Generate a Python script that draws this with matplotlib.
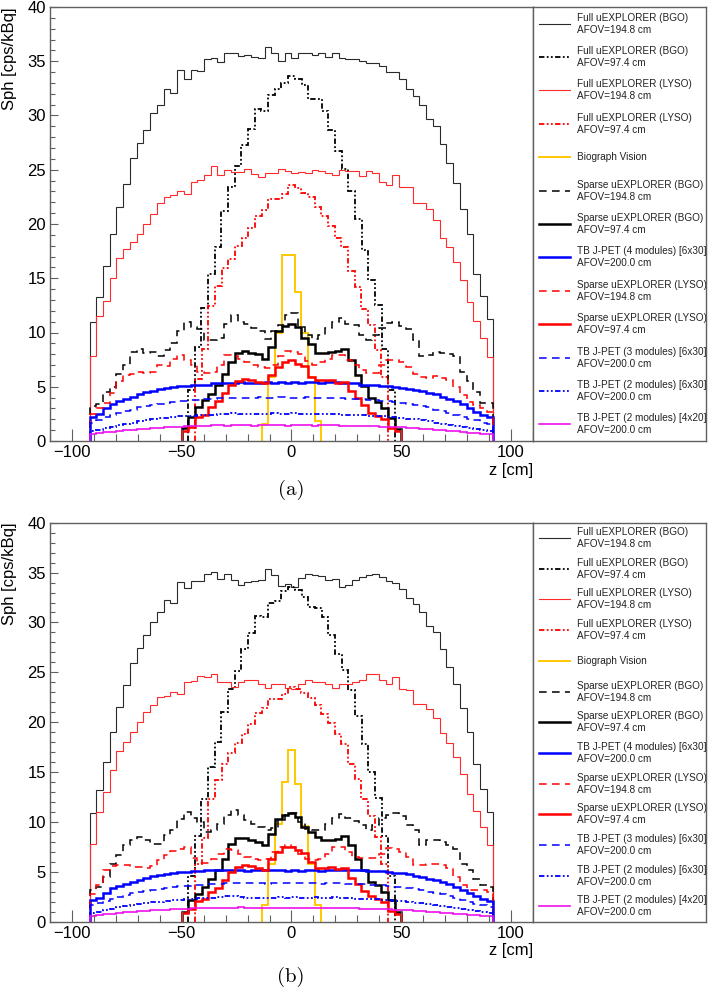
import numpy as np
import matplotlib.pyplot as plt
from matplotlib.ticker import MultipleLocator

plt.rcParams['font.family'] = ['Liberation Sans', 'DejaVu Sans']

# bin edges [cm]
edges_long = np.linspace(-92, 92, 61)
edges_sparse = np.linspace(-50, 50, 34)
edges_bgo97 = np.linspace(-47.1, 47.1, 32)
edges_lyso97 = np.linspace(-44, 44, 30)
edges_vision = np.linspace(-13.5, 13.5, 10)

labels = [
    "Full uEXPLORER (BGO)\nAFOV=194.8 cm",
    "Full uEXPLORER (BGO)\nAFOV=97.4 cm",
    "Full uEXPLORER (LYSO)\nAFOV=194.8 cm",
    "Full uEXPLORER (LYSO)\nAFOV=97.4 cm",
    "Biograph Vision",
    "Sparse uEXPLORER (BGO)\nAFOV=194.8 cm",
    "Sparse uEXPLORER (BGO)\nAFOV=97.4 cm",
    "TB J-PET (4 modules) [6x30]\nAFOV=200.0 cm",
    "Sparse uEXPLORER (LYSO)\nAFOV=194.8 cm",
    "Sparse uEXPLORER (LYSO)\nAFOV=97.4 cm",
    "TB J-PET (3 modules) [6x30]\nAFOV=200.0 cm",
    "TB J-PET (2 modules) [6x30]\nAFOV=200.0 cm",
    "TB J-PET (2 modules) [4x20]\nAFOV=200.0 cm",
]

# ---------------- panel (a) ----------------
a_full_bgo = [11.0, 13.3, 16.1, 19.1, 21.6, 23.7, 26.1, 27.5, 28.7, 30.2,
              31.0, 32.4, 32.1, 34.2, 33.4, 34.2, 34.1, 35.2, 35.3, 34.9,
              35.8, 35.8, 35.5, 35.6, 35.4, 35.3, 36.3, 35.8, 35.0, 35.8,
              35.3, 35.8, 35.8, 35.6, 35.8, 35.4, 35.8, 35.3, 35.2, 35.2,
              35.0, 34.8, 34.8, 34.6, 34.0, 34.0, 33.4, 32.4, 31.8, 31.0,
              29.7, 29.0, 27.4, 25.6, 23.8, 21.4, 19.1, 15.4, 13.4, 11.2]
a_full_bgo97 = [4.7, 8.7, 12.3, 15.4, 17.9, 21.2, 23.4, 25.3, 27.3, 28.8,
                30.6, 30.4, 31.9, 32.4, 33.0, 33.6, 33.4, 32.8, 31.5, 31.5,
                30.4, 28.7, 26.7, 25.1, 23.0, 20.5, 17.6, 14.8, 12.5, 8.5, 4.7]
a_full_lyso = [7.8, 11.5, 12.9, 15.0, 16.9, 17.7, 18.3, 19.1, 20.0, 20.9,
               21.9, 22.5, 22.7, 23.0, 22.8, 23.9, 24.1, 24.5, 25.3, 24.5,
               25.0, 24.8, 24.8, 25.1, 24.6, 24.3, 24.7, 24.7, 25.1, 24.9,
               24.7, 24.8, 24.7, 25.0, 24.9, 24.7, 24.5, 25.0, 24.9, 24.9,
               24.4, 24.9, 24.7, 23.9, 23.6, 24.5, 23.4, 23.4, 21.9, 21.9,
               21.4, 20.4, 18.7, 17.9, 16.5, 14.8, 12.8, 11.1, 9.5, 7.7]
a_full_lyso97 = [5.7, 8.5, 12.4, 14.3, 15.9, 16.8, 18.0, 18.7, 19.6, 20.7,
                 21.3, 22.3, 22.3, 22.8, 23.6, 23.3, 22.9, 22.5, 21.6, 20.7,
                 19.8, 18.7, 17.9, 15.7, 14.2, 12.2, 10.7, 8.4, 5.9]
a_vision = [1.6, 5.9, 10.0, 17.1, 17.1, 13.7, 10.0, 5.9, 1.8]
a_sparse_bgo = [3.2, 3.4, 4.5, 5.0, 6.2, 7.0, 8.2, 8.5, 8.1, 8.2,
                7.8, 8.4, 9.0, 10.1, 11.0, 10.5, 10.3, 9.3, 9.3, 9.5,
                10.8, 11.6, 11.0, 10.8, 10.4, 10.1, 9.4, 10.1, 10.7, 11.6,
                11.8, 10.5, 9.8, 9.4, 9.8, 10.4, 11.0, 11.3, 10.8, 10.7,
                9.8, 9.3, 9.8, 10.4, 10.9, 11.0, 10.6, 10.3, 9.3, 7.8,
                7.9, 8.2, 8.1, 8.0, 7.8, 6.4, 5.5, 4.5, 3.5, 3.5]
a_sparse_bgo97 = [1.2, 2.2, 3.1, 3.8, 4.3, 5.2, 6.2, 7.3, 8.1, 8.3, 8.1,
                  8.0, 7.6, 8.7, 10.1, 10.6, 10.8, 10.5, 9.5, 8.9, 8.1, 8.1,
                  8.2, 8.3, 8.5, 7.5, 6.1, 5.1, 4.0, 3.6, 3.0, 2.1, 1.1]
a_jpet4 = [2.2, 2.5, 3.0, 3.4, 3.7, 3.9, 4.1, 4.3, 4.5, 4.6,
           4.8, 4.9, 5.0, 5.1, 5.1, 5.2, 5.2, 5.2, 5.3, 5.3,
           5.3, 5.3, 5.4, 5.3, 5.3, 5.3, 5.4, 5.3, 5.4, 5.3,
           5.4, 5.3, 5.4, 5.4, 5.3, 5.4, 5.4, 5.3, 5.3, 5.3,
           5.2, 5.2, 5.2, 5.1, 5.1, 5.0, 4.9, 4.8, 4.7, 4.6,
           4.4, 4.3, 4.1, 3.9, 3.7, 3.4, 3.0, 2.7, 2.4, 2.2]
a_sparse_lyso = [2.5, 3.0, 3.5, 4.4, 5.5, 6.1, 6.2, 6.4, 6.3, 6.4,
                 7.0, 6.9, 7.6, 7.9, 7.5, 7.0, 6.4, 6.3, 6.4, 7.0,
                 7.9, 7.8, 7.6, 7.3, 7.0, 6.8, 6.7, 7.0, 7.8, 8.3,
                 8.2, 8.0, 7.4, 7.0, 7.3, 7.6, 7.9, 7.9, 7.5, 7.0,
                 6.5, 6.3, 6.3, 7.0, 7.5, 7.5, 7.3, 6.8, 6.2, 5.9,
                 5.8, 6.0, 5.8, 5.6, 5.0, 4.2, 3.6, 3.3, 3.0, 2.7]
a_sparse_lyso97 = [0.9, 1.3, 2.2, 2.4, 3.1, 3.7, 4.4, 5.2, 5.5, 5.7, 5.6,
                   5.4, 5.3, 6.1, 6.8, 7.3, 7.5, 7.1, 6.9, 5.9, 5.6, 5.6,
                   5.6, 5.3, 5.4, 4.6, 4.0, 3.3, 2.6, 2.3, 2.0, 1.2, 0.9]
a_jpet3 = [1.7, 1.9, 2.2, 2.4, 2.6, 2.8, 2.9, 3.1, 3.2, 3.3,
           3.4, 3.5, 3.6, 3.7, 3.7, 3.8, 3.8, 3.9, 3.9, 4.0,
           4.0, 4.0, 4.0, 4.0, 4.0, 4.1, 4.0, 4.0, 4.1, 4.0,
           4.0, 4.0, 4.1, 4.0, 4.0, 4.0, 4.0, 4.0, 3.9, 3.9,
           3.9, 3.8, 3.8, 3.7, 3.7, 3.6, 3.5, 3.4, 3.3, 3.2,
           3.1, 2.9, 2.8, 2.6, 2.4, 2.2, 2.0, 1.9, 1.7, 1.6]
a_jpet2 = [0.9, 1.0, 1.2, 1.3, 1.5, 1.6, 1.7, 1.8, 1.9, 2.0,
           2.1, 2.1, 2.2, 2.3, 2.3, 2.3, 2.4, 2.4, 2.4, 2.5,
           2.5, 2.6, 2.5, 2.5, 2.5, 2.5, 2.5, 2.6, 2.5, 2.5,
           2.6, 2.5, 2.5, 2.5, 2.5, 2.5, 2.5, 2.4, 2.4, 2.4,
           2.4, 2.3, 2.3, 2.3, 2.2, 2.2, 2.1, 2.0, 2.0, 1.9,
           1.8, 1.7, 1.6, 1.5, 1.4, 1.3, 1.2, 1.1, 1.0, 0.9]
a_jpet2s = [0.6, 0.7, 0.8, 0.8, 0.9, 1.0, 1.0, 1.1, 1.1, 1.2,
            1.2, 1.3, 1.3, 1.3, 1.4, 1.4, 1.4, 1.4, 1.5, 1.5,
            1.4, 1.5, 1.5, 1.5, 1.4, 1.5, 1.5, 1.5, 1.5, 1.4,
            1.5, 1.5, 1.5, 1.4, 1.5, 1.5, 1.5, 1.4, 1.4, 1.4,
            1.4, 1.4, 1.4, 1.3, 1.3, 1.3, 1.3, 1.2, 1.2, 1.1,
            1.1, 1.0, 1.0, 0.9, 0.9, 0.8, 0.7, 0.7, 0.6, 0.6]

# ---------------- panel (b) ----------------
b_full_bgo = [10.9, 13.2, 16.0, 19.0, 21.5, 23.7, 25.9, 27.4, 28.7, 30.0,
              31.0, 32.3, 31.9, 34.1, 33.5, 34.2, 34.2, 34.9, 35.1, 34.4,
              34.9, 34.3, 33.8, 34.1, 34.2, 34.3, 35.4, 34.8, 33.7, 33.9,
              33.6, 34.5, 34.9, 34.8, 34.7, 34.3, 34.4, 33.6, 33.8, 34.3,
              34.6, 34.8, 34.9, 34.6, 34.2, 34.0, 33.4, 32.5, 31.8, 31.0,
              29.6, 29.0, 27.3, 25.5, 23.8, 21.4, 19.0, 15.8, 13.3, 11.0]
b_full_bgo97 = [4.6, 8.6, 12.3, 15.5, 18.0, 21.0, 23.3, 25.1, 27.3, 28.9,
                30.6, 30.5, 31.9, 32.2, 33.2, 33.6, 33.3, 32.6, 31.5, 31.4,
                30.5, 28.7, 26.8, 25.2, 23.2, 20.6, 17.8, 15.0, 12.4, 8.6, 4.6]
b_full_lyso = [7.8, 11.0, 13.0, 15.2, 17.1, 18.0, 19.0, 20.0, 21.0, 21.7,
               22.5, 22.6, 23.0, 22.8, 24.0, 24.1, 24.6, 24.5, 24.8, 24.0,
               24.0, 23.5, 24.0, 24.2, 24.2, 23.8, 23.4, 23.8, 23.8, 23.4,
               23.3, 23.8, 24.2, 24.0, 24.0, 23.8, 23.4, 23.8, 23.8, 24.0,
               24.2, 24.8, 24.8, 24.2, 23.8, 24.5, 23.3, 23.2, 21.8, 21.8,
               21.3, 20.4, 18.9, 17.9, 16.5, 14.8, 12.8, 11.1, 9.5, 7.7]
b_full_lyso97 = [5.8, 8.4, 12.3, 14.2, 15.8, 16.9, 17.9, 18.8, 19.8, 20.9,
                 21.4, 22.3, 22.3, 22.8, 23.5, 23.3, 22.9, 22.4, 21.7, 20.8,
                 19.9, 18.8, 17.8, 15.8, 14.3, 12.3, 10.6, 8.5, 5.8]
b_vision = [1.7, 5.8, 9.8, 14.0, 17.2, 13.8, 9.6, 5.8, 1.7]
b_sparse_bgo = [3.2, 3.5, 4.5, 5.8, 6.7, 7.7, 8.2, 8.5, 8.2, 7.8,
                7.8, 8.7, 9.2, 10.3, 11.0, 10.4, 10.0, 9.0, 9.2, 9.8,
                10.7, 11.2, 10.7, 10.2, 9.8, 9.5, 9.2, 9.4, 10.2, 10.7,
                10.9, 10.0, 9.3, 9.2, 9.2, 9.8, 10.4, 10.8, 10.4, 10.1,
                9.7, 9.2, 9.7, 10.4, 10.7, 10.9, 10.6, 9.7, 9.2, 7.7,
                8.2, 8.2, 8.0, 7.7, 7.3, 5.8, 5.2, 4.3, 3.7, 3.5]
b_sparse_bgo97 = [1.0, 2.2, 2.8, 3.5, 4.3, 5.2, 6.3, 7.8, 8.4, 8.4, 8.2,
                  8.0, 7.7, 8.8, 10.3, 10.7, 10.9, 10.5, 9.5, 9.0, 8.5, 8.2,
                  8.2, 8.3, 8.6, 7.7, 6.3, 5.2, 4.0, 3.7, 3.0, 2.2, 1.0]
b_jpet4 = [2.2, 2.4, 2.9, 3.4, 3.6, 3.8, 4.0, 4.2, 4.4, 4.6,
           4.7, 4.8, 4.9, 5.0, 5.0, 5.1, 5.1, 5.2, 5.2, 5.2,
           5.2, 5.2, 5.2, 5.1, 5.2, 5.2, 5.2, 5.2, 5.2, 5.1,
           5.2, 5.1, 5.2, 5.2, 5.1, 5.2, 5.2, 5.2, 5.2, 5.2,
           5.2, 5.1, 5.1, 5.1, 5.0, 4.9, 4.9, 4.8, 4.6, 4.5,
           4.3, 4.2, 4.0, 3.8, 3.5, 3.2, 2.9, 2.6, 2.3, 2.1]
b_sparse_lyso = [2.8, 3.7, 5.2, 5.6, 5.7, 5.7, 5.5, 5.5, 5.4, 5.6,
                 6.2, 6.7, 7.1, 7.3, 7.5, 6.4, 5.9, 5.9, 6.3, 6.8,
                 7.3, 7.2, 6.8, 6.5, 6.3, 6.2, 6.3, 7.0, 7.5, 7.7,
                 7.5, 6.8, 6.3, 6.2, 6.3, 6.8, 7.5, 7.5, 7.0, 6.5,
                 6.4, 6.4, 6.4, 6.8, 7.4, 7.3, 7.0, 6.5, 5.7, 5.7,
                 5.8, 5.8, 5.7, 5.4, 4.5, 3.7, 3.2, 3.2, 3.2, 3.0]
b_sparse_lyso97 = [0.9, 1.3, 2.1, 2.3, 3.0, 3.4, 4.2, 5.0, 5.5, 5.7, 5.6,
                   5.4, 5.2, 6.3, 7.0, 7.5, 7.5, 7.2, 6.9, 6.0, 5.4, 5.4,
                   5.5, 5.3, 5.4, 4.4, 3.8, 3.1, 2.6, 2.3, 2.0, 1.1, 0.8]
b_jpet3 = [1.7, 1.9, 2.1, 2.3, 2.5, 2.7, 2.9, 3.0, 3.1, 3.2,
           3.3, 3.4, 3.5, 3.6, 3.6, 3.7, 3.7, 3.8, 3.8, 3.8,
           3.9, 3.9, 3.9, 3.9, 3.9, 3.9, 3.8, 3.9, 3.9, 3.9,
           3.9, 3.9, 3.9, 3.9, 3.8, 3.9, 3.9, 3.9, 3.8, 3.8,
           3.8, 3.7, 3.7, 3.7, 3.6, 3.5, 3.5, 3.4, 3.3, 3.2,
           3.0, 2.9, 2.8, 2.6, 2.4, 2.2, 2.0, 1.8, 1.7, 1.5]
b_jpet2 = [0.9, 1.0, 1.2, 1.3, 1.5, 1.6, 1.7, 1.8, 1.9, 2.0,
           2.0, 2.1, 2.2, 2.2, 2.3, 2.3, 2.4, 2.4, 2.4, 2.5,
           2.6, 2.6, 2.5, 2.4, 2.4, 2.4, 2.4, 2.4, 2.5, 2.4,
           2.5, 2.4, 2.4, 2.5, 2.4, 2.4, 2.5, 2.4, 2.4, 2.3,
           2.3, 2.3, 2.3, 2.2, 2.2, 2.1, 2.1, 2.0, 1.9, 1.9,
           1.8, 1.7, 1.6, 1.5, 1.4, 1.3, 1.2, 1.1, 1.0, 0.9]
b_jpet2s = [0.6, 0.7, 0.8, 0.8, 0.9, 1.0, 1.0, 1.1, 1.1, 1.2,
            1.2, 1.2, 1.3, 1.3, 1.3, 1.4, 1.4, 1.4, 1.4, 1.4,
            1.4, 1.4, 1.5, 1.4, 1.4, 1.4, 1.4, 1.4, 1.4, 1.4,
            1.4, 1.4, 1.4, 1.4, 1.4, 1.4, 1.4, 1.4, 1.4, 1.4,
            1.3, 1.3, 1.3, 1.3, 1.3, 1.2, 1.2, 1.2, 1.1, 1.1,
            1.0, 1.0, 0.9, 0.9, 0.8, 0.8, 0.7, 0.7, 0.6, 0.6]

edges = [edges_long, edges_bgo97, edges_long, edges_lyso97, edges_vision,
         edges_long, edges_sparse, edges_long, edges_long, edges_sparse,
         edges_long, edges_long, edges_long]

dashdot3 = (0, (3, 1.3, 1, 1.3, 1, 1.3))
dashed = (0, (5, 3.5))
styles = [
    dict(color='#2a2a2a', lw=0.8, ls='-'),
    dict(color='black', lw=1.3, ls=dashdot3),
    dict(color='#ff2a2a', lw=0.8, ls='-'),
    dict(color='red', lw=1.3, ls=dashdot3),
    dict(color='#ffc800', lw=1.4, ls='-'),
    dict(color='black', lw=1.1, ls=dashed),
    dict(color='black', lw=1.8, ls='-'),
    dict(color='blue', lw=1.8, ls='-'),
    dict(color='red', lw=1.1, ls=dashed),
    dict(color='red', lw=1.8, ls='-'),
    dict(color='blue', lw=1.1, ls=dashed),
    dict(color='blue', lw=1.3, ls=dashdot3),
    dict(color='#ee10ee', lw=1.2, ls='-'),
]

panel_a = [a_full_bgo, a_full_bgo97, a_full_lyso, a_full_lyso97, a_vision,
           a_sparse_bgo, a_sparse_bgo97, a_jpet4, a_sparse_lyso,
           a_sparse_lyso97, a_jpet3, a_jpet2, a_jpet2s]
panel_b = [b_full_bgo, b_full_bgo97, b_full_lyso, b_full_lyso97, b_vision,
           b_sparse_bgo, b_sparse_bgo97, b_jpet4, b_sparse_lyso,
           b_sparse_lyso97, b_jpet3, b_jpet2, b_jpet2s]

W, H = 708, 990
fig = plt.figure(figsize=(W / 100, H / 100), dpi=100)
frame_col = '#606060'


def px(x0, y0, x1, y1):
    # pixel box -> figure fraction rect
    return [x0 / W, 1 - y1 / H, (x1 - x0) / W, (y1 - y0) / H]


def draw_panel(top, bottom, series, tag, tag_y):
    ax = fig.add_axes(px(50, top, 533, bottom))
    for vals, e, st in zip(series, edges, styles):
        ax.stairs(vals, e, baseline=0, color=st['color'], lw=st['lw'],
                  linestyle=st['ls'])
    ax.set_xlim(-110, 110)
    ax.set_ylim(0, 40)
    ax.xaxis.set_major_locator(MultipleLocator(50))
    ax.xaxis.set_minor_locator(MultipleLocator(10))
    ax.yaxis.set_major_locator(MultipleLocator(5))
    ax.yaxis.set_minor_locator(MultipleLocator(1))
    ax.tick_params(axis='x', which='major', direction='in', length=9,
                   width=0.8, color=frame_col, labelsize=12, pad=3)
    ax.tick_params(axis='x', which='minor', direction='in', length=5,
                   width=0.8, color=frame_col)
    ax.tick_params(axis='y', which='major', direction='in', length=6,
                   width=0.8, color=frame_col, labelsize=12, pad=3)
    ax.tick_params(axis='y', which='minor', direction='in', length=3.5,
                   width=0.8, color=frame_col)
    for s in ax.spines.values():
        s.set_color(frame_col)
        s.set_linewidth(1.0)

    fig.text(10 / W, 1 - top / H, "Sph [cps/kBq]", rotation=90,
             ha='center', va='top', fontsize=12)
    fig.text(533 / W, 1 - (bottom + 29) / H, "z [cm]",
             ha='right', va='center', fontsize=12)
    fig.text(291 / W, 1 - tag_y / H, tag, ha='center', va='center',
             fontsize=15, family=['cmr10', 'DejaVu Serif'])

    # legend box to the right of the frame
    lg = fig.add_axes(px(533, top, 706, bottom))
    lg.set_xlim(0, 1)
    lg.set_ylim(0, 1)
    lg.set_xticks([])
    lg.set_yticks([])
    for s in lg.spines.values():
        s.set_color(frame_col)
        s.set_linewidth(1.0)
    n = len(labels)
    for i, (lab, st) in enumerate(zip(labels, styles)):
        yc = 1 - (i + 0.5) / n
        lg.plot([0.035, 0.215], [yc, yc], color=st['color'],
                lw=st['lw'], linestyle=st['ls'])
        lg.text(0.255, yc, lab, ha='left', va='center', fontsize=7.2,
                color='#222222', linespacing=1.25, clip_on=True)
    return ax


draw_panel(7, 441, panel_a, "(a)", 490)
draw_panel(522.7, 921.7, panel_b, "(b)", 977)

fig.savefig("out.png", dpi=100)
